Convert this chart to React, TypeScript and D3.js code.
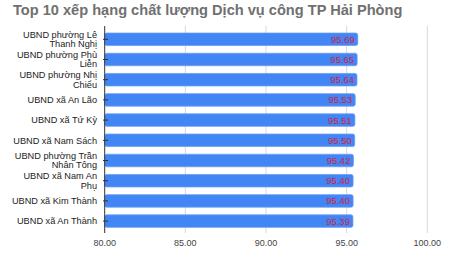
import React from "react";
import * as d3 from "d3";

const title = "Top 10 xếp hạng chất lượng Dịch vụ công TP Hải Phòng";
const categories = [
  "UBND phường Lê Thanh Nghị",
  "UBND phường Phù Liễn",
  "UBND phường Nhị Chiểu",
  "UBND xã An Lão",
  "UBND xã Tứ Kỳ",
  "UBND xã Nam Sách",
  "UBND phường Trần Nhân Tông",
  "UBND xã Nam An Phụ",
  "UBND xã Kim Thành",
  "UBND xã An Thành",
];
const values = [95.69, 95.65, 95.64, 95.53, 95.51, 95.5, 95.42, 95.4, 95.4, 95.39];
const xTicks = [80, 85, 90, 95, 100];

function wrap(s: string, max: number): string[] {
  const words = s.split(" ");
  const lines: string[] = [];
  let cur = "";
  for (const w of words) {
    const t = cur ? cur + " " + w : w;
    if (t.length > max && cur) {
      lines.push(cur);
      cur = w;
    } else cur = t;
  }
  if (cur) lines.push(cur);
  return lines;
}

export default function App() {
  const W = 450, H = 258;
  const x = d3.scaleLinear().domain([80, 100]).range([104.7, 427.3]);
  const y = d3.scaleBand<string>().domain(categories).range([29.2, 231.2]).paddingInner(0.38).paddingOuter(0.19);
  const font = "Arial, 'Liberation Sans', sans-serif";
  return (
    <svg width={W} height={H} style={{ position: "absolute", left: 0, top: 0, background: "#fff" }} fontFamily={font}>
      <text x={13} y={15} fontSize={14.6} fontWeight="bold" fill="#707070">{title}</text>
      {xTicks.map((t) => (
        <g key={t}>
          {t !== 80 && <line x1={x(t)} x2={x(t)} y1={26} y2={233} stroke="#d9d9d9" strokeWidth={1} />}
          <text x={x(t)} y={246} fontSize={9} fill="#444" textAnchor="middle">{t.toFixed(2)}</text>
        </g>
      ))}
      {categories.map((c, i) => {
        const yy = y(c)!;
        const bw = y.bandwidth();
        const cy = yy + bw / 2;
        const lines = wrap(c, 17);
        const lh = 9.5;
        return (
          <g key={c}>
            <rect x={x(80)} y={yy} width={x(values[i]) - x(80)} height={bw} rx={2} fill="#4285f4" stroke="#6a9ef6" strokeWidth={0.8} />
            <text x={x(values[i]) - 3} y={cy + 3.4} fontSize={9.5} fill="#d3233e" textAnchor="end">{values[i].toFixed(2)}</text>
            <line x1={103} x2={108} y1={cy} y2={cy} stroke="#333" />
            <text x={97} y={cy + 3.2 - ((lines.length - 1) * lh) / 2} fontSize={9.2} fill="#222" textAnchor="end">
              {lines.map((l, k) => (
                <tspan key={k} x={97} dy={k === 0 ? 0 : lh}>{l}</tspan>
              ))}
            </text>
          </g>
        );
      })}
      <line x1={x(80)} x2={x(80)} y1={26} y2={233} stroke="#333" strokeWidth={1} />
    </svg>
  );
}
